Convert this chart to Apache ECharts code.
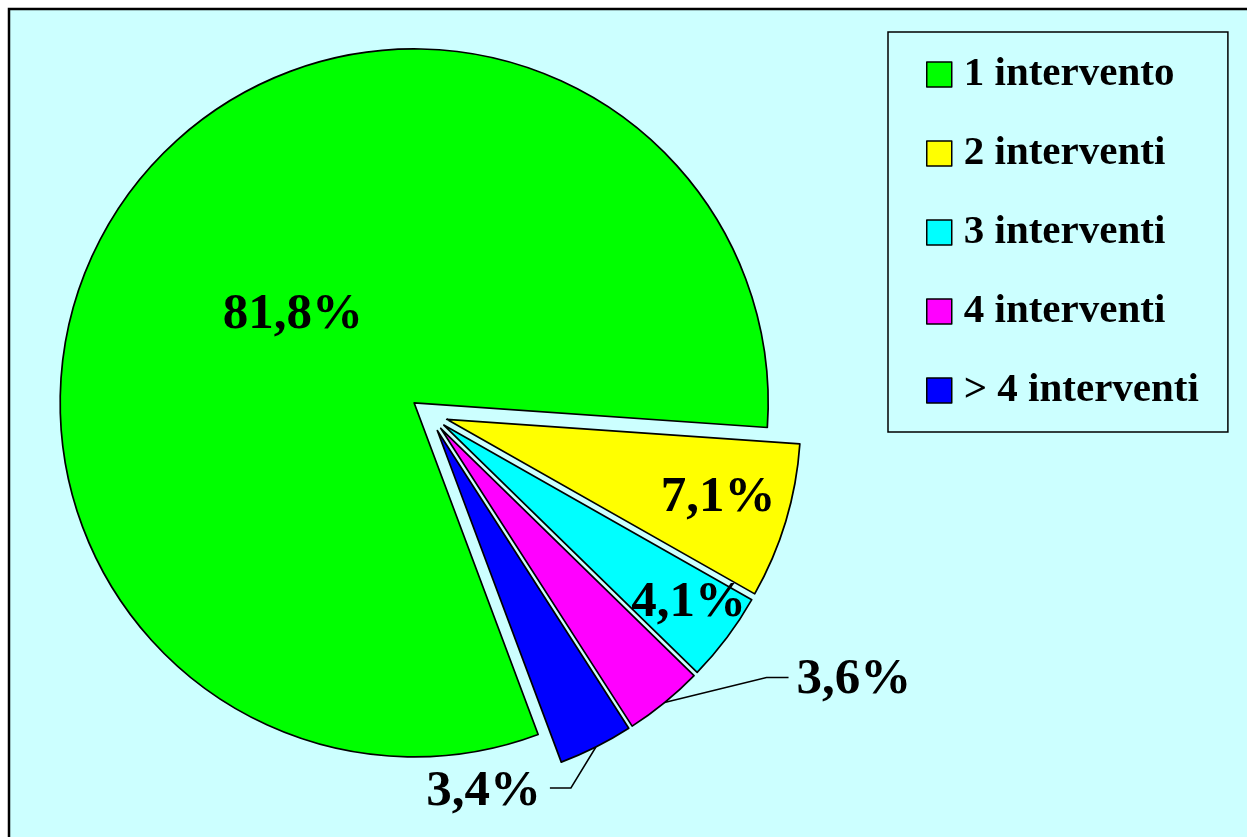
<!DOCTYPE html>
<html>
<head>
<meta charset="utf-8">
<title>Interventi</title>
<script src="https://cdn.jsdelivr.net/npm/echarts@6/dist/echarts.min.js"></script>
<style>
  html, body { margin: 0; padding: 0; background: #ffffff; }
  #chart { width: 1247px; height: 837px; }
</style>
</head>
<body>
<div id="chart"></div>
<script>
// Share of cases by number of interventions
const categories = ['1 intervento', '2 interventi', '3 interventi', '4 interventi', '> 4 interventi'];
const shares = [81.8, 7.1, 4.1, 3.6, 3.4];
const sliceColors = ['#00ff00', '#ffff00', '#00ffff', '#ff00ff', '#0000ff'];

const FONT = '"Liberation Serif", "Times New Roman", serif';

// nudges for the labels printed on the slices
const insideShift = { 0: [23, 20], 1: [99, 27], 2: [101, 70] };

function fmt(v) {
  return v.toFixed(1).replace('.', ',') + '%';
}

const chart = echarts.init(document.getElementById('chart'), null, { renderer: 'canvas' });

chart.setOption({
  backgroundColor: '#ffffff',
  animation: false,
  graphic: [{
    type: 'rect',
    silent: true,
    z: -10,
    shape: { x: 9, y: 9, width: 1400, height: 1000 },
    style: { fill: '#ccffff', stroke: '#000000', lineWidth: 2.5 }
  }],
  legend: {
    orient: 'vertical',
    left: 888,
    top: 32,
    padding: [22, 29, 21, 38],
    backgroundColor: '#ccffff',
    borderColor: '#000000',
    borderWidth: 1.5,
    itemWidth: 25,
    itemHeight: 25,
    itemGap: 38,
    icon: 'rect',
    selectedMode: false,
    itemStyle: { borderColor: '#000000', borderWidth: 1.5 },
    textStyle: {
      fontFamily: FONT,
      fontWeight: 'bold',
      fontSize: 41,
      lineHeight: 39,
      color: '#000000',
      padding: [0, 0, 0, 7]
    },
    data: categories
  },
  series: [{
    type: 'pie',
    center: [429, 414],
    radius: 354,
    startAngle: -69.5,
    clockwise: true,
    selectedMode: 'multiple',
    selectedOffset: 18.5,
    avoidLabelOverlap: false,
    emphasis: { disabled: true },
    itemStyle: { borderColor: '#000000', borderWidth: 1.7 },
    label: {
      show: true,
      position: 'inside',
      formatter: (p) => fmt(p.value),
      color: '#000000',
      fontFamily: FONT,
      fontWeight: 'bold',
      fontSize: 51
    },
    labelLine: { show: false, lineStyle: { color: '#000000', width: 1.5 } },
    data: categories.map((name, i) => {
      const item = {
        name: name,
        value: shares[i],
        selected: true,
        itemStyle: { color: sliceColors[i] }
      };
      if (i >= 3) {
        item.label = { position: 'outside' };
        item.labelLine = { show: true, length: 20, length2: 20 };
      }
      return item;
    }),
    labelLayout: function (p) {
      const i = p.dataIndex;
      if (insideShift[i]) {
        return { dx: insideShift[i][0], dy: insideShift[i][1] };
      }
      const pts = p.labelLinePoints;
      const r = p.labelRect;
      if (!pts || !r) return {};
      const a = pts[0];
      const midY = r.y + r.height / 2;
      if (i === 3) {
        // leader rises to the right, text sits after it
        const b = [a[0] + 102, a[1] - 25];
        const c = [b[0] + 22, b[1]];
        return { dx: c[0] + 8 - r.x, dy: c[1] + 2 - midY, labelLinePoints: [a, b, c] };
      }
      // leader drops to the left, text ends before it
      const b = [a[0] - 25, a[1] + 41];
      const c = [b[0] - 21, b[1]];
      return { dx: c[0] - 9 - (r.x + r.width), dy: c[1] + 4 - midY, labelLinePoints: [a, b, c] };
    }
  }]
});
</script>
</body>
</html>
